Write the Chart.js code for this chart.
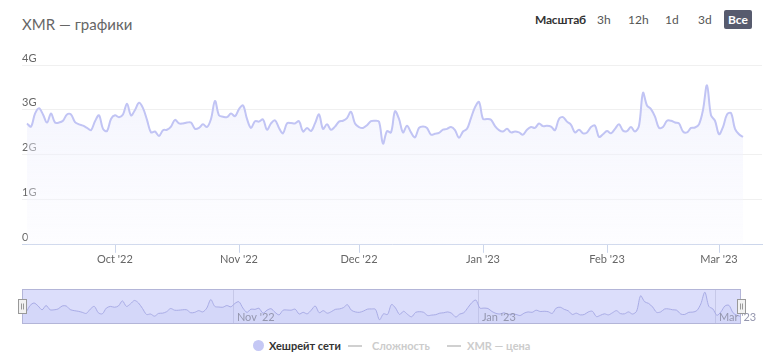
<!DOCTYPE html>
<html><head><meta charset="utf-8">
<script src="https://cdn.jsdelivr.net/npm/chart.js@4"></script>
<style>
html,body{margin:0;padding:0;background:#fff;width:775px;height:355px;overflow:hidden;font-family:Lato,"Open Sans",sans-serif;}
#title{position:absolute;left:22px;top:15px;font-size:15px;color:#666;white-space:nowrap;}
.btn{position:absolute;top:11px;font-size:12px;color:#555;line-height:17px;}
#scale{left:535px;font-weight:bold;color:#333;letter-spacing:-0.2px;}
#all{left:724px;top:10px;width:28px;height:19px;line-height:19px;text-align:center;background:#575b6e;color:#fff;font-weight:bold;border-radius:2px;}
#main{position:absolute;left:0;top:0;}
#nav{position:absolute;left:0;top:280px;}
#legend{position:absolute;top:338px;left:0;width:775px;height:16px;font-size:11px;font-weight:bold;}
.li{position:absolute;top:0;line-height:16px;white-space:nowrap;}
.dot{position:absolute;top:2px;width:11px;height:11px;border-radius:50%;background:#c5c8f5;}
.dash{position:absolute;top:7px;width:14px;height:2px;background:#d0d0d0;}
</style></head>
<body>
<div id="title">XMR — графики</div>
<div class="btn" id="scale">Масштаб</div>
<div class="btn" style="left:597px">3h</div>
<div class="btn" style="left:628px">12h</div>
<div class="btn" style="left:665px">1d</div>
<div class="btn" style="left:698px">3d</div>
<div class="btn" id="all">Все</div>
<canvas id="main" width="775" height="272"></canvas>
<canvas id="nav" width="775" height="50"></canvas>
<div id="legend">
  <span class="dot" style="left:253px"></span>
  <div class="li" style="left:269px;color:#333">Хешрейт сети</div>
  <span class="dash" style="left:348px"></span>
  <div class="li" style="left:372px;color:#ccc">Сложность</div>
  <span class="dash" style="left:447px"></span>
  <div class="li" style="left:467px;color:#ccc">XMR — цена</div>
</div>
<script>
// ---- data ----
const seriesName = 'Хешрейт сети';
const startDate = '2022-09-09';   // first daily sample
const hashrateG = [
2.70,2.63,2.92,3.04,2.90,2.72,2.92,2.72,2.72,2.76,
2.90,2.90,2.73,2.68,2.65,2.60,2.55,2.75,2.88,2.58,
2.53,2.80,2.88,2.84,2.90,3.14,2.88,3.00,3.16,3.04,
2.78,2.50,2.52,2.42,2.55,2.56,2.63,2.78,2.70,2.70,
2.72,2.72,2.58,2.60,2.68,2.62,2.80,3.20,2.88,2.85,
2.84,2.92,2.86,3.02,3.10,2.80,2.60,2.75,2.74,2.79,
2.56,2.70,2.77,2.60,2.48,2.70,2.71,2.70,2.75,2.52,
2.60,2.53,2.70,2.90,2.58,2.68,2.56,2.63,2.74,2.76,
2.82,2.96,2.70,2.62,2.60,2.66,2.75,2.76,2.74,2.25,
2.53,2.50,2.97,2.80,2.50,2.65,2.50,2.39,2.60,2.63,
2.60,2.45,2.47,2.49,2.56,2.58,2.62,2.55,2.38,2.52,
2.58,2.82,3.06,3.18,2.80,2.80,2.78,2.64,2.55,2.52,
2.58,2.50,2.52,2.50,2.45,2.56,2.62,2.60,2.70,2.64,
2.65,2.63,2.55,2.80,2.84,2.74,2.67,2.50,2.56,2.48,
2.50,2.62,2.65,2.40,2.46,2.53,2.48,2.58,2.68,2.54,
2.53,2.62,2.52,2.65,3.38,3.10,3.02,2.85,2.60,2.62,
2.76,2.76,2.72,2.70,2.52,2.50,2.60,2.61,2.68,3.00,
3.55,2.88,2.76,2.46,2.62,2.90,2.93,2.58,2.46,2.40
];
const monthTicks  = ['2022-10-01','2022-11-01','2022-12-01','2023-01-01','2023-02-01','2023-03-01'];
const monthLabels = ["Oct '22","Nov '22","Dec '22","Jan '23","Feb '23","Mar '23"];
const yTicks  = [0,1,2,3,4];
const yLabels = ['0','1G','2G','3G','4G'];
const navTicks  = ['2022-11-01','2023-01-01','2023-03-01'];
const navLabels = ["Nov '22","Jan '23","Mar '23"];

// ---- build ----
const DAY = 86400000;
const t0 = Date.parse(startDate + 'T00:00:00Z');
const points = hashrateG.map((v, i) => ({x: t0 + i * DAY, y: v}));
const tLast = t0 + (hashrateG.length - 1) * DAY;
const toT = s => Date.parse(s + 'T00:00:00Z');
const FONT = 'Lato, "Open Sans", sans-serif';

new Chart(document.getElementById('main'), {
  type: 'line',
  data: { datasets: [{
    label: seriesName, data: points,
    borderColor: '#c1c4f4', borderWidth: 2, pointRadius: 0, tension: 0.35,
    fill: 'origin',
    backgroundColor: (ctx) => {
      const a = ctx.chart.chartArea; if (!a) return 'rgba(240,240,253,0.6)';
      const g = ctx.chart.ctx.createLinearGradient(0, a.top, 0, a.bottom);
      g.addColorStop(0, 'rgba(232,234,252,0.6)');
      g.addColorStop(1, 'rgba(248,248,255,0.3)');
      return g;
    }
  }]},
  options: {
    responsive: false, animation: false, events: [],
    layout: { padding: { left: 22, right: 13, top: 65, bottom: 6 } },
    plugins: { legend: { display: false }, tooltip: { enabled: false } },
    scales: {
      x: {
        type: 'linear', min: t0 - 1.25 * DAY, max: tLast + 4.75 * DAY,
        afterBuildTicks: ax => { ax.ticks = monthTicks.map(s => ({ value: toT(s) })); },
        ticks: { callback: (v, i) => monthLabels[i], color: '#666', font: { family: FONT, size: 11 }, padding: 0, maxRotation: 0, autoSkip: false },
        grid: { drawOnChartArea: false, tickLength: 8, color: '#ccd6eb' },
        border: { color: '#ccd6eb' }
      },
      y: {
        min: 0, max: 4,
        afterBuildTicks: ax => { ax.ticks = yTicks.map(v => ({ value: v })); },
        ticks: { mirror: true, padding: 0, labelOffset: -7, callback: (v, i) => yLabels[i], color: '#666', font: { family: FONT, size: 11 } },
        grid: { color: '#f0f0f0', drawTicks: false },
        border: { display: false }
      }
    }
  }
});

const navPlugin = {
  id: 'navDeco',
  beforeDatasetsDraw(chart) {
    const { ctx, chartArea: a } = chart;
    ctx.save();
    ctx.fillStyle = '#dcdefb';
    ctx.fillRect(a.left, a.top, a.right - a.left, a.bottom - a.top);
    ctx.strokeStyle = '#c6c8e8';
    ctx.lineWidth = 1;
    const xs = chart.scales.x;
    navTicks.forEach(s => {
      const px = Math.round(xs.getPixelForValue(toT(s))) - 2 + 0.5;
      ctx.beginPath(); ctx.moveTo(px, a.top); ctx.lineTo(px, a.bottom); ctx.stroke();
    });
    ctx.restore();
  },
  afterDraw(chart) {
    const { ctx, chartArea: a } = chart;
    const xs = chart.scales.x;
    ctx.save();
    ctx.font = '11px ' + FONT;
    ctx.fillStyle = '#9496ae';
    ctx.textBaseline = 'bottom';
    navTicks.forEach((s, i) => {
      ctx.fillText(navLabels[i], xs.getPixelForValue(toT(s)) + 2, a.bottom - 1);
    });
    ctx.strokeStyle = '#b3b5d8'; ctx.lineWidth = 1;
    ctx.strokeRect(a.left + 0.5, a.top + 0.5, a.right - a.left - 1, a.bottom - a.top - 1);
    [a.left, a.right].forEach(x => {
      const hx = Math.round(x) - 4 + 0.5, hy = a.top + 10.5;
      ctx.fillStyle = '#f2f2f2'; ctx.strokeStyle = '#999';
      ctx.fillRect(hx, hy, 8, 14); ctx.strokeRect(hx, hy, 8, 14);
      ctx.beginPath();
      ctx.moveTo(hx + 3, hy + 4); ctx.lineTo(hx + 3, hy + 10);
      ctx.moveTo(hx + 5, hy + 4); ctx.lineTo(hx + 5, hy + 10);
      ctx.stroke();
    });
    ctx.restore();
  }
};

const vMin = Math.min(...hashrateG), vMax = Math.max(...hashrateG);
new Chart(document.getElementById('nav'), {
  type: 'line',
  data: { datasets: [{
    data: points, borderColor: '#a9ace6', borderWidth: 1, pointRadius: 0, tension: 0.3,
    fill: 'start', backgroundColor: 'rgba(170,174,240,0.15)'
  }]},
  options: {
    responsive: false, animation: false, events: [],
    layout: { padding: { left: 22, right: 34, top: 9, bottom: 6 } },
    plugins: { legend: { display: false }, tooltip: { enabled: false } },
    scales: {
      x: { type: 'linear', display: false, min: t0, max: tLast },
      y: { display: false, min: vMin - 0.2, max: vMax + 0.15 }
    }
  },
  plugins: [navPlugin]
});
</script>
</body></html>
